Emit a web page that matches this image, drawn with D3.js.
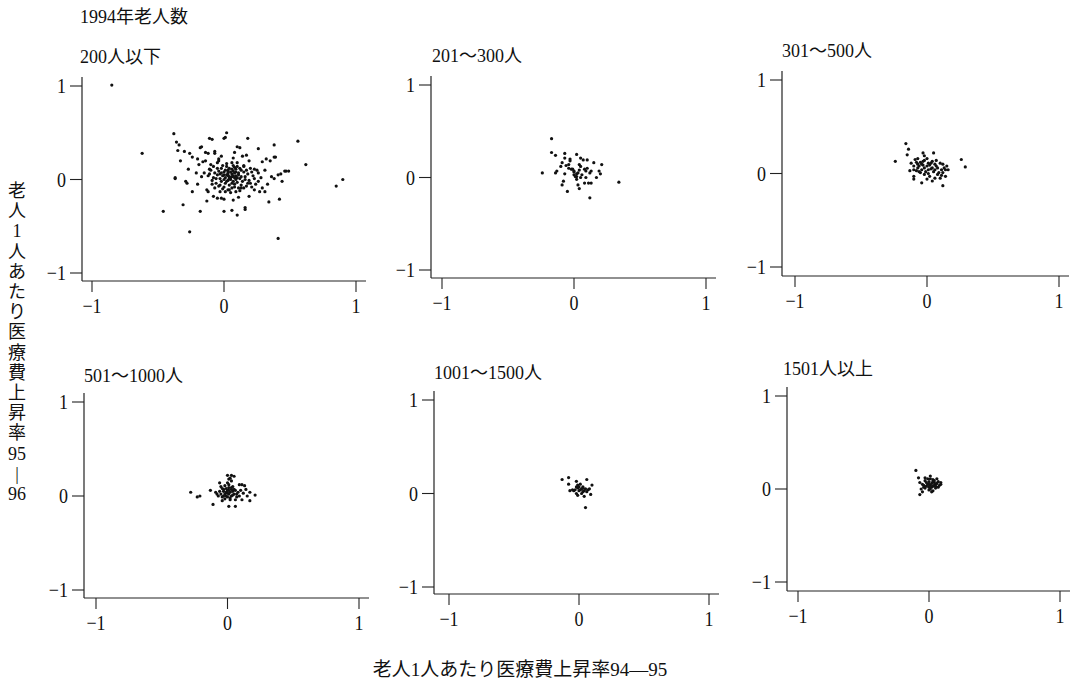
<!DOCTYPE html>
<html><head><meta charset="utf-8">
<script src="https://cdn.jsdelivr.net/npm/d3@7"></script>
<style>
body{margin:0;background:#fff;}
text{font-family:"Liberation Serif","Noto Sans CJK JP",serif;fill:#111;}
</style></head>
<body>
<script>
// ---- data ----
const mainTitle = "1994年老人数";
const panelTitles = ["200人以下","201～300人","301～500人","501～1000人","1001～1500人","1501人以上"];
const xAxisTitle = "老人1人あたり医療費上昇率94—95";
const yAxisGlyphs = ["老","人","1","人","あ","た","り","医","療","費","上","昇","率","95","|","96"];
const tickValues = [-1,0,1];
const tickLabels = ["−1","0","1"];

const grp200 = [
[-0.85,1.01],[-0.38,0.49],[0.02,0.50],[-0.62,0.28],[-0.36,0.40],[-0.34,0.37],[-0.11,0.44],[-0.09,0.43],
[0.00,0.44],[0.01,0.45],[0.18,0.44],[0.38,0.37],[0.56,0.41],[0.62,0.16],[0.90,0.00],[0.85,-0.07],
[-0.46,-0.34],[-0.26,-0.56],[0.41,-0.63],[-0.31,-0.27],[-0.18,-0.34],[0.00,-0.34],[0.06,-0.33],[0.10,-0.38],
[0.16,-0.30],[0.16,-0.32],[0.34,-0.24],[0.42,-0.21],[-0.37,0.02],[-0.37,0.01],[-0.29,-0.02],[-0.28,-0.04],
[-0.24,-0.13],[-0.13,-0.23],[-0.08,-0.18],[-0.05,-0.20],[-0.02,-0.20],
[-0.35,0.31],[-0.30,0.30],[-0.33,0.20],[-0.26,0.28],[-0.24,0.24],[-0.18,0.34],[-0.17,0.35],[-0.14,0.29],
[-0.12,0.28],[-0.07,0.30],[-0.07,0.28],[-0.20,0.22],[-0.16,0.19],[-0.19,0.16],[-0.14,0.20],[-0.10,0.16],
[-0.11,0.11],[-0.05,0.18],[-0.04,0.20],[-0.02,0.25],[-0.04,0.22],[-0.27,0.11],[-0.21,0.07],[-0.15,0.07],[-0.17,0.03],
[0.10,0.35],[0.12,0.34],[0.26,0.33],[0.08,0.29],[0.14,0.25],[0.17,0.26],[0.07,0.23],[0.19,0.20],[0.29,0.19],
[0.32,0.22],[0.35,0.20],[0.38,0.24],[0.39,0.24],[0.15,0.14],[0.23,0.11],[0.26,0.07],[0.31,0.10],[0.41,0.05],
[0.43,0.06],[0.46,0.09],[0.47,0.09],[0.49,0.09],[0.36,0.03],[0.38,0.01],[0.44,-0.02],
[-0.20,-0.05],[-0.13,-0.11],[-0.12,-0.13],[-0.09,-0.05],[-0.07,-0.09],[-0.04,-0.07],[-0.03,-0.13],[0.03,-0.11],
[0.05,-0.14],[0.09,-0.13],[0.13,-0.09],[0.17,-0.07],[0.20,-0.04],[0.23,-0.11],[0.27,-0.13],[0.29,-0.09],
[0.31,-0.13],[0.33,-0.05],[0.26,-0.02],[0.19,-0.18],[0.11,-0.19],[0.07,-0.22],[0.00,-0.21],
[0.02,0.05],[0.04,0.03],[0.06,0.06],[0.08,0.02],[0.03,-0.01],[0.05,0.00],[0.07,-0.02],[0.01,0.02],
[-0.01,0.04],[0.00,0.08],[0.03,0.10],[0.06,0.11],[0.09,0.08],[0.11,0.05],[0.12,0.01],[0.10,-0.03],
[0.08,-0.05],[0.04,-0.06],[0.01,-0.04],[-0.02,-0.02],[-0.03,0.01],[-0.05,0.05],[-0.04,0.09],[-0.02,0.12],
[0.02,0.14],[0.07,0.15],[0.12,0.12],[0.15,0.08],[0.16,0.03],[0.14,-0.02],[0.13,-0.06],[0.06,-0.09],
[0.00,-0.08],[-0.06,-0.04],[-0.08,0.02],[-0.07,0.07],[0.09,0.11],[0.05,0.08],[0.03,0.06],[0.10,0.02],
[0.18,0.06],[0.19,-0.01],[0.20,0.12],[-0.10,0.10],[-0.09,-0.01],[0.02,0.17],[0.10,0.18],[0.15,0.15],
[-0.01,-0.10],[0.11,-0.09],[0.22,0.04],[0.24,-0.05],[-0.12,0.04],[0.00,0.00],[0.04,0.01],[0.06,0.03],
[0.08,0.07],[0.13,0.10],[-0.03,0.06],[0.01,0.10],
[0.03,0.04],[0.05,0.02],[0.07,0.04],[0.09,0.00],[0.02,-0.02],[0.06,-0.04],[0.08,-0.08],[0.04,-0.11],
[0.11,0.07],[0.13,0.03],[0.00,0.05],[-0.02,0.07],[0.04,0.12],[0.08,0.13],[0.17,0.10],[0.18,-0.04],
[0.15,-0.09],[0.01,-0.13],[-0.06,0.01],[-0.05,0.12],[0.21,0.08],[0.23,0.01],[0.06,0.18],[-0.01,0.15],
[0.12,-0.12],[0.16,0.00],[0.10,0.14],[0.03,0.08],[0.07,0.09],[0.09,0.04],[-0.08,0.14],[-0.11,0.06],
[0.25,0.10],[0.28,0.02],[0.21,-0.08],[-0.03,-0.06]
];
const grp300 = [
[-0.17,0.42],[-0.17,0.27],[-0.14,0.24],[-0.24,0.05],[-0.14,0.05],[-0.13,0.07],[-0.07,0.26],[-0.07,0.21],
[-0.03,0.20],[-0.03,0.18],[0.02,0.25],[0.05,0.21],[0.07,0.19],[0.10,0.19],[-0.09,0.16],[-0.06,0.13],
[-0.04,0.14],[-0.04,0.10],[-0.02,0.09],[0.00,0.07],[0.00,0.03],[0.02,0.01],[0.03,0.05],[0.04,0.14],
[0.05,0.12],[0.08,0.09],[0.09,0.07],[0.10,0.10],[0.12,0.05],[0.13,0.07],[0.15,0.16],[0.21,0.14],
[0.19,0.07],[0.20,0.04],[0.17,0.00],[0.13,-0.06],[0.11,-0.06],[0.08,-0.06],[0.02,-0.02],[0.03,-0.08],
[0.04,-0.12],[0.01,0.01],[-0.07,0.04],[-0.08,-0.04],[-0.09,-0.08],[-0.05,-0.15],[0.12,-0.22],[0.34,-0.05],
[0.09,0.00],[0.05,0.00],[-0.10,0.12],[0.00,0.06],[0.02,0.04],[-0.01,0.09],[0.04,0.08],[0.06,0.03]
];
const grp500 = [
[-0.16,0.32],[-0.14,0.26],[-0.15,0.20],[-0.24,0.13],[-0.03,0.22],[0.05,0.22],[0.26,0.15],[0.29,0.07],
[0.12,-0.13],[-0.04,-0.10],[-0.10,-0.03],[-0.10,-0.06],
[-0.12,0.11],[-0.09,0.15],[-0.07,0.16],[-0.05,0.12],[-0.03,0.13],[0.00,0.16],[0.01,0.11],[0.04,0.13],
[0.07,0.14],[0.10,0.11],[0.12,0.10],[0.15,0.08],[0.14,0.04],[0.12,0.01],[0.11,-0.02],[0.09,0.01],
[0.06,0.04],[0.04,0.06],[0.01,0.04],[-0.02,0.06],[-0.04,0.04],[-0.07,0.06],[-0.08,0.03],[-0.10,0.04],
[-0.05,0.01],[-0.02,-0.01],[0.02,-0.03],[0.06,-0.05],[0.10,-0.05],[0.14,-0.03],[0.16,0.04],[-0.07,0.10],
[-0.03,0.09],[0.02,0.09],[0.07,0.08],[-0.02,0.19],[-0.10,0.08],[-0.13,0.03],[0.00,-0.06],[0.04,-0.08],
[-0.06,0.08],[-0.04,0.10],[0.00,0.08],[0.03,0.05],[-0.01,0.02],[0.05,0.02],[0.08,0.06],[0.03,0.11],
[-0.08,0.12],[0.11,0.04],[0.06,0.10],[-0.02,0.14],[0.01,0.00],[-0.06,0.02],[0.08,-0.01],[0.13,0.06]
];
const grp1000 = [
[-0.28,0.04],[-0.23,-0.01],[-0.21,0.00],[-0.13,0.06],[-0.11,-0.09],[0.00,0.22],[0.03,0.22],[0.05,0.21],
[0.01,0.18],[0.01,0.12],[-0.06,0.14],[-0.05,0.10],[0.09,0.12],[0.11,0.12],[0.13,0.11],[0.14,0.07],
[0.17,0.04],[0.21,0.01],[0.17,-0.05],[0.11,-0.04],[0.07,-0.01],[0.01,-0.11],[0.06,-0.11],[-0.04,-0.05],
[-0.09,0.04],[-0.03,0.07],[-0.01,0.08],[0.01,0.09],[0.03,0.07],[0.04,0.05],[0.05,0.02],[0.03,0.00],
[0.00,-0.01],[-0.03,0.00],[-0.05,0.02],[-0.06,0.05],[-0.01,0.04],[0.01,0.02],[0.00,0.06],[-0.04,-0.01],
[0.02,-0.02],[0.06,0.06],[0.08,0.04],[-0.08,0.02],[-0.02,0.11],[0.03,0.16],[0.10,0.06],[0.09,0.00],
[0.00,0.03],[0.02,0.04],[-0.02,0.02],[0.01,0.06],[0.04,0.01],[-0.01,0.00],[0.03,0.09],[0.05,0.07],
[-0.03,0.05],[0.02,-0.04],[-0.02,-0.03],[0.07,0.02],[0.00,0.14],[0.02,0.19],[0.04,0.10],[-0.04,0.08],
[0.06,-0.04],[0.12,0.03],[0.15,0.00],[-0.07,0.00]
];
const grp1500 = [
[-0.13,0.15],[-0.08,0.17],[-0.08,0.10],[-0.02,0.13],[0.06,0.15],[0.10,0.09],[-0.07,0.03],[-0.05,0.04],
[-0.04,0.03],[-0.02,0.07],[-0.01,0.09],[0.00,0.03],[0.02,0.05],[0.02,0.00],[0.04,0.03],[0.05,0.05],
[0.07,0.04],[0.08,0.05],[0.03,0.07],[-0.02,0.00],[-0.01,-0.02],[0.09,-0.01],[0.04,-0.03],[0.05,-0.15],
[-0.03,0.04],[0.01,0.10],[0.01,0.04],[0.03,0.02],[-0.01,0.06],[0.06,0.02],[0.00,0.07],[0.03,0.06]
];
const grpOver = [
[-0.10,0.20],[-0.08,0.12],[-0.07,0.07],[-0.06,0.00],[-0.07,-0.06],[-0.05,0.05],[-0.03,0.09],[-0.01,0.11],
[0.01,0.11],[0.03,0.10],[0.04,0.07],[0.05,0.05],[0.07,0.08],[0.09,0.07],[0.08,0.04],[0.05,0.01],
[0.03,-0.02],[0.00,-0.01],[-0.03,0.01],[-0.04,0.04],[-0.01,0.05],[0.01,0.04],[0.03,0.03],[0.00,0.08],
[-0.05,-0.03],[0.06,0.11],[0.01,0.14],[-0.03,0.12],
[0.00,0.05],[0.02,0.06],[0.04,0.04],[0.02,0.02],[-0.02,0.03],[0.06,0.06],[0.03,0.08],[0.00,0.02],
[-0.02,0.07],[0.05,0.03],[0.01,0.00],[0.07,0.02],[0.04,0.09],[-0.04,0.02],[0.02,-0.03],[0.09,0.05]
];
const groups = [grp200, grp300, grp500, grp1000, grp1500, grpOver];

// ---- layout (page geometry of each panel) ----
const layout = [
 {ax:82,  ay:281, xl:92,  xr:356,  yb:273, yt:86,  tx:80,  ty:63},
 {ax:431, ay:278, xl:442, xr:706,  yb:270, yt:85,  tx:432, ty:62},
 {ax:782, ay:276, xl:795, xr:1059, yb:267, yt:80,  tx:782, ty:57},
 {ax:84,  ay:598, xl:96,  xr:359,  yb:590, yt:402, tx:84,  ty:382},
 {ax:434, ay:594, xl:449, xr:709,  yb:587, yt:400, tx:434, ty:379},
 {ax:787, ay:591, xl:798, xr:1060, yb:582, yt:396, tx:783, ty:375}
];

const svg = d3.select("body").append("svg").attr("width",1072).attr("height",683);
const FS = 18;

svg.append("text").attr("x",80).attr("y",23).attr("font-size",FS).text(mainTitle);

groups.forEach((data,i)=>{
  const L = layout[i];
  const x = d3.scaleLinear().domain([-1,1]).range([L.xl,L.xr]);
  const y = d3.scaleLinear().domain([-1,1]).range([L.yb,L.yt]);
  const g = svg.append("g");
  g.append("text").attr("x",L.tx).attr("y",L.ty).attr("font-size",FS).text(panelTitles[i]);
  g.append("line").attr("x1",L.ax).attr("x2",L.ax).attr("y1",y(1)-9).attr("y2",L.ay)
    .attr("stroke","#222").attr("stroke-width",1.2);
  g.append("line").attr("x1",L.ax).attr("x2",x(1)+10).attr("y1",L.ay).attr("y2",L.ay)
    .attr("stroke","#222").attr("stroke-width",1.2);
  tickValues.forEach((v,k)=>{
    g.append("line").attr("x1",L.ax-12).attr("x2",L.ax).attr("y1",y(v)).attr("y2",y(v))
      .attr("stroke","#222").attr("stroke-width",1.1);
    g.append("text").attr("text-anchor","end")
      .attr("transform",`translate(${L.ax-16},${y(v)+7}) scale(1,1.15)`)
      .attr("font-size",FS).text(tickLabels[k]);
    g.append("line").attr("x1",x(v)).attr("x2",x(v)).attr("y1",L.ay).attr("y2",L.ay+11)
      .attr("stroke","#222").attr("stroke-width",1.1);
    g.append("text").attr("text-anchor","middle")
      .attr("transform",`translate(${x(v)},${L.ay+32}) scale(1,1.15)`)
      .attr("font-size",FS).text(tickLabels[k]);
  });
  g.selectAll("circle").data(data).enter().append("circle")
    .attr("cx",d=>x(d[0])).attr("cy",d=>y(d[1])).attr("r",1.6).attr("fill","#111");
});

svg.append("g").selectAll("text").data(yAxisGlyphs).enter().append("text")
  .attr("x",17).attr("y",(d,i)=>197+i*20.2).attr("text-anchor","middle")
  .attr("font-size",FS).text(d=>d);

svg.append("text").attr("x",520).attr("y",676).attr("text-anchor","middle")
  .attr("font-size",19).text(xAxisTitle);
</script>
</body></html>
